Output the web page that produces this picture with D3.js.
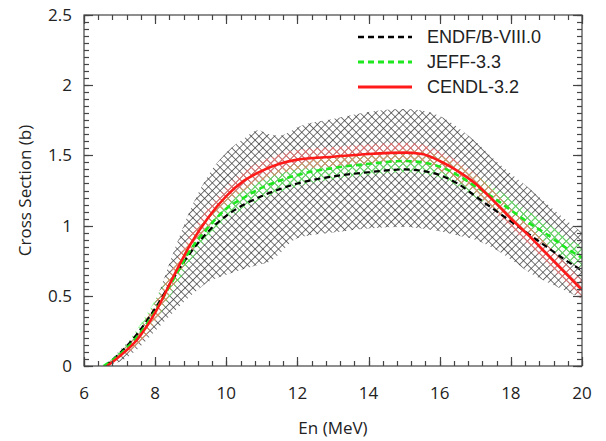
<!DOCTYPE html>
<html>
<head>
<meta charset="utf-8">
<script src="https://cdn.jsdelivr.net/npm/d3@7"></script>
<style>
body { margin: 0; background: #fff; }
text { font-family: "Open Sans", "DejaVu Sans", sans-serif; fill: #222; }
</style>
</head>
<body>
<svg id="svg"></svg>
<script>
// energies shared by all curves (MeV)
var energy = [7, 7.5, 8, 8.5, 9, 9.5, 10, 10.5, 11, 11.5, 12, 13, 14, 15, 15.5, 16, 16.5, 17, 17.5, 18, 18.5, 19, 19.5, 20];

var endfStart = 6.6, jeffStart = 6.55, cendlStart = 6.65;
var endf  = [0.09, 0.23, 0.41, 0.62, 0.81, 0.96, 1.07, 1.15, 1.21, 1.26, 1.30, 1.35, 1.38, 1.40, 1.39, 1.36, 1.30, 1.21, 1.12, 1.03, 0.94, 0.85, 0.76, 0.68];
var jeff  = [0.08, 0.21, 0.39, 0.61, 0.83, 0.99, 1.12, 1.20, 1.27, 1.32, 1.36, 1.41, 1.44, 1.46, 1.45, 1.42, 1.36, 1.28, 1.20, 1.11, 1.02, 0.94, 0.85, 0.77];
var cendl = [0.07, 0.19, 0.38, 0.63, 0.87, 1.06, 1.21, 1.32, 1.39, 1.44, 1.47, 1.49, 1.51, 1.52, 1.51, 1.46, 1.39, 1.30, 1.18, 1.05, 0.93, 0.80, 0.67, 0.54];
var jeffUnc = 0.08, cendlUnc = 0.07;

// grey uncertainty envelope
var envE     = [6.6, 7, 7.5, 8, 8.5, 9, 9.5, 10, 10.5, 10.9, 11.2, 11.5, 11.8, 12, 13, 14, 15, 15.5, 16, 16.5, 17, 17.5, 18, 18.5, 19, 19.5, 20];
var envUpper = [0, 0.11, 0.25, 0.46, 0.80, 1.12, 1.36, 1.52, 1.62, 1.68, 1.65, 1.64, 1.67, 1.70, 1.76, 1.81, 1.83, 1.82, 1.78, 1.70, 1.60, 1.48, 1.37, 1.27, 1.16, 1.05, 0.95];
var envLower = [0, 0.03, 0.12, 0.25, 0.38, 0.50, 0.60, 0.65, 0.69, 0.72, 0.74, 0.80, 0.88, 0.91, 0.95, 0.98, 0.99, 0.98, 0.96, 0.93, 0.90, 0.84, 0.76, 0.67, 0.60, 0.54, 0.48];

var xTicks = [6, 8, 10, 12, 14, 16, 18, 20];
var yTicks = [0, 0.5, 1, 1.5, 2, 2.5];

var legendNames = ["ENDF/B-VIII.0", "JEFF-3.3", "CENDL-3.2"];

var W = 606, H = 441;
var margin = {left: 84, top: 15, right: 24, bottom: 75};
var width = W - margin.left - margin.right;
var height = H - margin.top - margin.bottom;

var svg = d3.select("#svg").attr("width", W).attr("height", H);

var xScale = d3.scaleLinear().domain([6, 20]).range([0, width]);
var yScale = d3.scaleLinear().domain([0, 2.5]).range([height, 0]);

function series(start, vals) {
    var out = [{e: start, v: 0}];
    energy.forEach((e, i) => out.push({e: e, v: vals[i]}));
    return out;
}

// hatch patterns
var defs = svg.append("defs");
function hatch(id, color, size, sw) {
    var p = defs.append("pattern")
        .attr("id", id)
        .attr("patternUnits", "userSpaceOnUse")
        .attr("width", size).attr("height", size)
        .attr("patternTransform", "rotate(45)");
    p.append("path")
        .attr("d", `M0,0H${size}M0,0V${size}`)
        .attr("stroke", color)
        .attr("stroke-width", sw)
        .attr("fill", "none");
}
hatch("hGrey", "#3a3a3a", 5.5, 1.4);
hatch("hGreen", "#5cff5c", 5.5, 1.4);
hatch("hRed", "#ff7070", 5.5, 1.4);

defs.append("clipPath").attr("id", "clip")
    .append("rect").attr("width", width).attr("height", height);

var g = svg.append("g").attr("transform", `translate(${margin.left}, ${margin.top})`);
var plot = g.append("g").attr("clip-path", "url(#clip)");

var curve = d3.curveMonotoneX;

var envData = envE.map((e, i) => ({e: e, lo: envLower[i], hi: envUpper[i]}));
plot.append("path").datum(envData)
    .attr("fill", "url(#hGrey)")
    .attr("d", d3.area().curve(curve).x(d => xScale(d.e)).y0(d => yScale(d.lo)).y1(d => yScale(d.hi)));

var jeffData = series(jeffStart, jeff);
var cendlData = series(cendlStart, cendl);
var endfData = series(endfStart, endf);

function band(data, unc) {
    return d3.area().curve(curve)
        .x(d => xScale(d.e))
        .y0(d => yScale(Math.max(0, d.v - unc * Math.min(1, d.v / 0.3))))
        .y1(d => yScale(d.v + unc * Math.min(1, d.v / 0.3)))(data);
}
plot.append("path").attr("fill", "url(#hGreen)").attr("d", band(jeffData, jeffUnc));
plot.append("path").attr("fill", "url(#hRed)").attr("d", band(cendlData, cendlUnc));

var line = d3.line().curve(curve).x(d => xScale(d.e)).y(d => yScale(d.v));
var styles = [
    {data: endfData, color: "#000", dash: "6,4", w: 2.2},
    {data: jeffData, color: "#1ee81e", dash: "6,4", w: 2.6},
    {data: cendlData, color: "#ff1a1a", dash: null, w: 2.6}
];
styles.forEach(s => {
    plot.append("path").datum(s.data)
        .attr("fill", "none")
        .attr("stroke", s.color)
        .attr("stroke-width", s.w)
        .attr("stroke-dasharray", s.dash)
        .attr("d", line);
});

// frame, inward ticks on all four sides
var axisColor = "#444";
var xMinor = d3.range(6, 20.001, 0.4);
var yMinor = d3.range(0, 2.5001, 0.05);
var ticksG = g.append("g").attr("stroke", axisColor).attr("stroke-width", 1.2);

function xTickLines(vals, len) {
    [[height, -len], [0, len]].forEach(([y0, dy]) => {
        ticksG.append("g").selectAll("line").data(vals).join("line")
            .attr("x1", d => Math.round(xScale(d)) + 0.5).attr("x2", d => Math.round(xScale(d)) + 0.5)
            .attr("y1", y0).attr("y2", y0 + dy);
    });
}
function yTickLines(vals, len) {
    [[0, len], [width, -len]].forEach(([x0, dx]) => {
        ticksG.append("g").selectAll("line").data(vals).join("line")
            .attr("y1", d => Math.round(yScale(d)) + 0.5).attr("y2", d => Math.round(yScale(d)) + 0.5)
            .attr("x1", x0).attr("x2", x0 + dx);
    });
}
xTickLines(xMinor, 5);
xTickLines(xTicks, 9);
yTickLines(yMinor, 5);
yTickLines(yTicks, 9);

g.append("rect")
    .attr("width", width).attr("height", height)
    .attr("fill", "none").attr("stroke", axisColor).attr("stroke-width", 1.2);

// tick labels
g.append("g").selectAll("text").data(xTicks).join("text")
    .attr("x", d => xScale(d)).attr("y", height + 33)
    .attr("text-anchor", "middle")
    .style("font-size", "17px")
    .text(d => d);
g.append("g").selectAll("text").data(yTicks).join("text")
    .attr("x", -12).attr("y", d => yScale(d)).attr("dy", "0.35em")
    .attr("text-anchor", "end")
    .style("font-size", "17px")
    .text(d => d);

// axis titles
svg.append("text")
    .attr("x", margin.left + width / 2).attr("y", 434)
    .attr("text-anchor", "middle")
    .style("font-size", "17px")
    .text("En (MeV)");
svg.append("text")
    .attr("transform", `translate(31, ${margin.top + height / 2}) rotate(-90)`)
    .attr("text-anchor", "middle")
    .style("font-size", "17px")
    .text("Cross Section (b)");

// legend
var legend = svg.append("g");
legendNames.forEach((name, i) => {
    var y = 37 + i * 25;
    legend.append("line")
        .attr("x1", 358).attr("x2", 412).attr("y1", y).attr("y2", y)
        .attr("stroke", styles[i].color)
        .attr("stroke-width", styles[i].w + 0.4)
        .attr("stroke-dasharray", styles[i].dash);
    legend.append("text")
        .attr("x", 427).attr("y", y)
        .attr("dy", "0.35em")
        .style("font-family", "'Liberation Sans', Arial, sans-serif")
        .style("font-size", "18px")
        .text(name);
});
</script>
</body>
</html>
